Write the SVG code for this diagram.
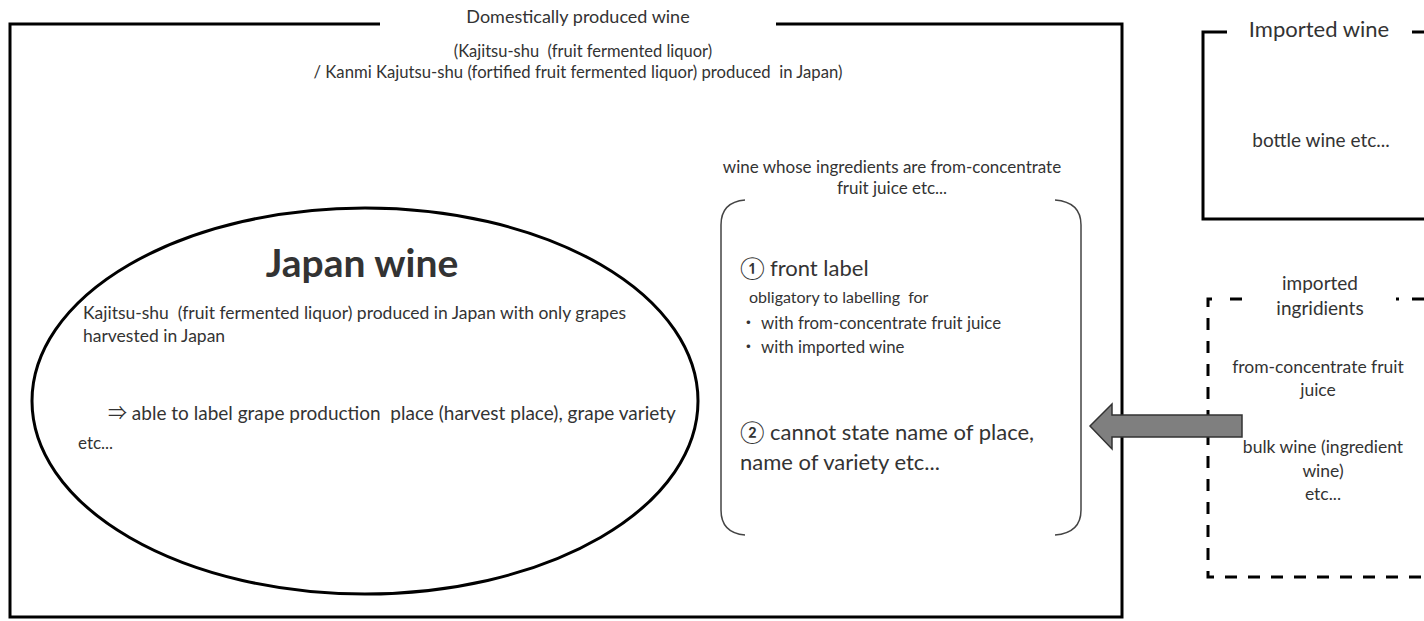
<svg xmlns="http://www.w3.org/2000/svg" width="1424" height="621" viewBox="0 0 1424 621">
<style>
text{font-family:Lato,"Open Sans","Noto Sans CJK JP",sans-serif;fill:#333;white-space:pre}
.c{text-anchor:middle}
.solid{fill:none;stroke:#000;stroke-width:3}
.dash{fill:none;stroke:#000;stroke-width:3;stroke-dasharray:12 11}
.br{fill:none;stroke:#444;stroke-width:1.5}
</style>
<rect width="1424" height="621" fill="#fff"/>
<g id="domestic">
<path class="solid" d="M380 24 H10 V617 H1122 V24 H776"/>
<text class="c" x="578" y="23" font-size="18">Domestically produced wine</text>
<text class="c" x="583" y="57" font-size="16.5">(Kajitsu-shu  (fruit fermented liquor)</text>
<text class="c" x="578" y="78" font-size="16.7">/ Kanmi Kajutsu-shu (fortified fruit fermented liquor) produced  in Japan)</text>
</g>
<g id="japan-wine">
<ellipse class="solid" cx="365" cy="401" rx="333" ry="193"/>
<text class="c" x="362" y="277" font-size="39" font-weight="bold" fill="#111">Japan wine</text>
<text x="83" y="319" font-size="17.5">Kajitsu-shu  (fruit fermented liquor) produced in Japan with only grapes</text>
<text x="83" y="342" font-size="17.5">harvested in Japan</text>
<text x="108" y="420" font-size="19">⇒ able to label grape production  place (harvest place), grape variety</text>
<text x="78" y="449" font-size="17">etc...</text>
</g>
<g id="concentrate-wine">
<text class="c" x="892" y="173" font-size="17">wine whose ingredients are from-concentrate</text>
<text class="c" x="892" y="194" font-size="17">fruit juice etc...</text>
<path class="br" d="M745 200 Q721 202 721 225 V510 Q721 533 745 535"/>
<path class="br" d="M1055 200 Q1081 202 1081 225 V510 Q1081 533 1055 535"/>
<text x="740" y="276" font-size="22">① front label</text>
<text x="749" y="303" font-size="16">obligatory to labelling  for</text>
<text x="740" y="329" font-size="16.8">・ with from-concentrate fruit juice</text>
<text x="740" y="353" font-size="16.8">・ with imported wine</text>
<text x="740" y="440" font-size="22">② cannot state name of place,</text>
<text x="740" y="470" font-size="22">name of variety etc...</text>
</g>
<g id="imported-wine">
<path class="solid" d="M1227 32 H1203 V219 H1424"/>
<path class="solid" d="M1412 32 H1424"/>
<text class="c" x="1319" y="37" font-size="22">Imported wine</text>
<text class="c" x="1321" y="147" font-size="19">bottle wine etc...</text>
</g>
<g id="imported-ingredients">
<path class="dash" d="M1242 299 H1227 M1212 299 H1208 V577 H1424"/>
<path class="dash" d="M1396 299 H1399 M1412 299 H1424" stroke-dasharray="none"/>
<text class="c" x="1320" y="290" font-size="19">imported</text>
<text class="c" x="1320" y="315" font-size="19">ingridients</text>
<text class="c" x="1318" y="373" font-size="17.5">from-concentrate fruit</text>
<text class="c" x="1318" y="396" font-size="17.5">juice</text>
<text class="c" x="1323" y="453" font-size="17.5">bulk wine (ingredient</text>
<text class="c" x="1323" y="477" font-size="17.5">wine)</text>
<text class="c" x="1323" y="500" font-size="17.5">etc...</text>
</g>
<g id="connectors">
<path d="M1242 415 H1112 V404 L1090 426 L1112 449 V437 H1242 Z" fill="#7f7f7f" stroke="#333" stroke-width="1.5"/>
</g>
</svg>
